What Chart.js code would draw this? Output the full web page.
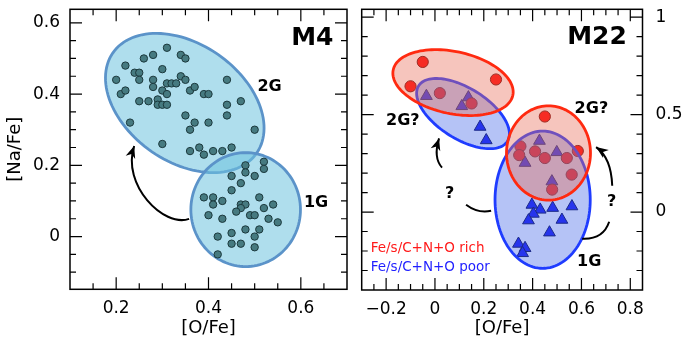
<!DOCTYPE html>
<html>
<head>
<meta charset="utf-8">
<script src="https://cdn.jsdelivr.net/npm/chart.js@4.4.1/dist/chart.umd.min.js"></script>
<style>
  html, body { margin: 0; padding: 0; background: #fff; }
  #wrap { position: relative; width: 692px; height: 343px; }
  canvas { position: absolute; top: 0; }
</style>
</head>
<body>
<div id="wrap">
  <canvas id="m4" width="352" height="343" style="left:0"></canvas>
  <canvas id="m22" width="340" height="343" style="left:352px"></canvas>
</div>
<script>
// M4 stars: [O/Fe] and [Na/Fe]
const m4OFe = [0.20, 0.22, 0.21, 0.22, 0.23, 0.24, 0.25, 0.25, 0.25, 0.26, 0.27, 0.28, 0.28, 0.28, 0.29, 0.29, 0.30, 0.30, 0.30, 0.30,
  0.31, 0.31, 0.31, 0.31, 0.32, 0.33, 0.34, 0.34, 0.35, 0.35, 0.35, 0.36, 0.36, 0.36, 0.37, 0.37, 0.38, 0.39, 0.39, 0.40,
  0.40, 0.41, 0.43, 0.44, 0.44, 0.44, 0.45, 0.47, 0.50,
  0.48, 0.52, 0.52, 0.45, 0.48, 0.50, 0.47, 0.45, 0.39, 0.41, 0.41, 0.43, 0.47, 0.48, 0.47, 0.46, 0.51, 0.52, 0.54, 0.40,
  0.43, 0.49, 0.50, 0.53, 0.55, 0.45, 0.48, 0.51, 0.42, 0.50, 0.45, 0.47, 0.50, 0.42];
const m4NaFe = [0.44, 0.48, 0.40, 0.41, 0.32, 0.46, 0.46, 0.44, 0.38, 0.50, 0.38, 0.51, 0.44, 0.42, 0.385, 0.37, 0.47, 0.41, 0.37, 0.26,
  0.53, 0.43, 0.40, 0.37, 0.43, 0.43, 0.45, 0.51, 0.50, 0.44, 0.34, 0.41, 0.30, 0.24, 0.42, 0.32, 0.25, 0.40, 0.23, 0.40,
  0.32, 0.24, 0.24, 0.44, 0.37, 0.34, 0.25, 0.38, 0.30,
  0.20, 0.21, 0.19, 0.17, 0.18, 0.17, 0.15, 0.13, 0.11, 0.11, 0.09, 0.10, 0.09, 0.09, 0.08, 0.07, 0.11, 0.08, 0.09, 0.06,
  0.05, 0.06, 0.06, 0.05, 0.04, 0.01, 0.02, 0.02, 0.00, 0.00, -0.02, -0.02, -0.03, -0.05];

// M22 stars, Fe/s/C+N+O rich (circles) and poor (triangles)
const richOFe = [-0.05, -0.10, 0.25, 0.02, 0.15, 0.45, 0.35, 0.345, 0.41, 0.45, 0.54, 0.585, 0.56, 0.48];
const richNaFe = [0.77, 0.645, 0.68, 0.61, 0.557, 0.49, 0.337, 0.292, 0.311, 0.277, 0.277, 0.313, 0.192, 0.115];
const poorOFe = [-0.035, 0.11, 0.137, 0.185, 0.21, 0.428, 0.499, 0.369, 0.479, 0.397, 0.431, 0.403, 0.383, 0.482,
  0.561, 0.52, 0.469, 0.342, 0.369, 0.359];
const poorNaFe = [0.595, 0.543, 0.588, 0.437, 0.368, 0.365, 0.307, 0.252, 0.157, 0.037, 0.012, -0.009, -0.043, 0.021,
  0.029, -0.040, -0.105, -0.163, -0.185, -0.211];

// tick labels
const m4XTicks = [0.2, 0.4, 0.6];
const m4YTicks = [0, 0.2, 0.4, 0.6];
const m22XTicks = [-0.2, 0, 0.2, 0.4, 0.6, 0.8];
const m22YTicks = [0, 0.5, 1];

const FONT = "'DejaVu Sans'";

// grouping ellipses: centre and the ends of two conjugate half-axes, in data units
const m4Ellipses = [
  { c: [0.3486, 0.375], a: [0.505, 0.2356], b: [0.4196, 0.512] },
  { c: [0.4805, 0.0757], a: [0.5992, 0.0757], b: [0.4805, 0.2356] }
];
const m22Ellipses = [
  { c: [0.115, 0.505], a: [0.297, 0.363], b: [0.170, 0.616], kind: 'poor' },
  { c: [0.441, 0.063], a: [0.636, 0.063], b: [0.441, 0.415], kind: 'poor' },
  { c: [0.074, 0.664], a: [0.319, 0.599], b: [0.100, 0.820], kind: 'rich' },
  { c: [0.465, 0.303], a: [0.637, 0.303], b: [0.465, 0.545], kind: 'rich' }
];

const deco = {
  m4: {
    ellipsesOnTop: false,
    ellipseStyle: () => ({ fill: 'rgba(110,195,222,0.55)', stroke: '#5b93c9' }),
    ellipses: m4Ellipses,
    arrows: [
      { p: [[0.358, 0.0497], [0.303, 0.0244], [0.2112, 0.145], [0.239, 0.2544]], head: true }
    ],
    texts: [
      { t: 'M4', x: 0.6707, y: 0.5377, font: 'bold 25px ' + FONT, align: 'right', color: '#000' },
      { t: '2G', x: 0.506, y: 0.409, font: 'bold 16px ' + FONT, align: 'left', color: '#000' },
      { t: '1G', x: 0.6066, y: 0.0833, font: 'bold 16px ' + FONT, align: 'left', color: '#000' }
    ],
    frame: { x0: 0.15, x1: 0.65, xs: 0.05, xMajor: m4XTicks, y0: -0.1, y1: 0.6, ys: 0.05, yMajor: m4YTicks }
  },
  m22: {
    ellipsesOnTop: true,
    ellipseStyle: e => e.kind === 'rich'
      ? { fill: 'rgba(232,110,90,0.4)', stroke: '#ff2a10' }
      : { fill: 'rgba(70,105,232,0.4)', stroke: '#1f3cff' },
    ellipses: m22Ellipses,
    arrows: [
      { p: [[0.1275, 0.0375], [0.177, -0.0087], [0.230, 0.0067]], head: false },
      { p: [[0.029, 0.2276], [-0.0078, 0.279], [0.0168, 0.3777]], head: true },
      { p: [[0.603, -0.137], [0.689, -0.142], [0.7135, -0.050]], head: false },
      { p: [[0.726, 0.135], [0.7217, 0.279], [0.660, 0.333]], head: true }
    ],
    texts: [
      { t: 'M22', x: 0.786, y: 0.860, font: 'bold 25px ' + FONT, align: 'right', color: '#000' },
      { t: '2G?', x: -0.2004, y: 0.448, font: 'bold 16px ' + FONT, align: 'left', color: '#000' },
      { t: '2G?', x: 0.572, y: 0.510, font: 'bold 16px ' + FONT, align: 'left', color: '#000' },
      { t: '?', x: 0.0414, y: 0.0735, font: 'bold 16px ' + FONT, align: 'left', color: '#000' },
      { t: '?', x: 0.705, y: 0.032, font: 'bold 16px ' + FONT, align: 'left', color: '#000' },
      { t: '1G', x: 0.582, y: -0.276, font: 'bold 16px ' + FONT, align: 'left', color: '#000' },
      { t: 'Fe/s/C+N+O rich', x: -0.263, y: -0.2025, font: '13.5px ' + FONT, align: 'left', color: '#ff1a1a' },
      { t: 'Fe/s/C+N+O poor', x: -0.263, y: -0.304, font: '13.5px ' + FONT, align: 'left', color: '#1f1fff' }
    ],
    frame: { x0: -0.25, x1: 0.8, xs: 0.05, xMajor: m22XTicks, y0: -0.3, y1: 1.0, ys: 0.1, yMajor: m22YTicks }
  }
};

function toPx(chart, p) {
  return [chart.scales.x.getPixelForValue(p[0]), chart.scales.y.getPixelForValue(p[1])];
}

function drawEllipses(chart, d) {
  const ctx = chart.ctx;
  d.ellipses.forEach(e => {
    const c = toPx(chart, e.c), a = toPx(chart, e.a), b = toPx(chart, e.b);
    const ax = a[0] - c[0], ay = a[1] - c[1], bx = b[0] - c[0], by = b[1] - c[1];
    const st = d.ellipseStyle(e);
    ctx.save();
    ctx.beginPath();
    for (let i = 0; i <= 120; i++) {
      const t = i / 120 * Math.PI * 2;
      const x = c[0] + Math.cos(t) * ax + Math.sin(t) * bx;
      const y = c[1] + Math.cos(t) * ay + Math.sin(t) * by;
      if (i === 0) ctx.moveTo(x, y); else ctx.lineTo(x, y);
    }
    ctx.closePath();
    ctx.fillStyle = st.fill;
    ctx.fill();
    ctx.lineWidth = 2.8;
    ctx.strokeStyle = st.stroke;
    ctx.stroke();
    ctx.restore();
  });
}

function drawArrows(chart, d) {
  const ctx = chart.ctx;
  ctx.save();
  ctx.strokeStyle = '#000';
  ctx.fillStyle = '#000';
  ctx.lineWidth = 2;
  d.arrows.forEach(ar => {
    const p = ar.p.map(q => toPx(chart, q));
    ctx.beginPath();
    ctx.moveTo(p[0][0], p[0][1]);
    if (p.length === 4) ctx.bezierCurveTo(p[1][0], p[1][1], p[2][0], p[2][1], p[3][0], p[3][1]);
    else ctx.quadraticCurveTo(p[1][0], p[1][1], p[2][0], p[2][1]);
    ctx.stroke();
    if (ar.head) {
      const tip = p[p.length - 1], from = p[p.length - 2];
      const ang = Math.atan2(tip[1] - from[1], tip[0] - from[0]);
      const L = 12, W = 5;
      ctx.beginPath();
      ctx.moveTo(tip[0], tip[1]);
      ctx.lineTo(tip[0] - L * Math.cos(ang) + W * Math.sin(ang), tip[1] - L * Math.sin(ang) - W * Math.cos(ang));
      ctx.lineTo(tip[0] - L * 0.7 * Math.cos(ang), tip[1] - L * 0.7 * Math.sin(ang));
      ctx.lineTo(tip[0] - L * Math.cos(ang) - W * Math.sin(ang), tip[1] - L * Math.sin(ang) + W * Math.cos(ang));
      ctx.closePath();
      ctx.fill();
    }
  });
  ctx.restore();
}

function drawTexts(chart, d) {
  const ctx = chart.ctx;
  ctx.save();
  ctx.textBaseline = 'alphabetic';
  d.texts.forEach(t => {
    const p = toPx(chart, [t.x, t.y]);
    ctx.font = t.font;
    ctx.fillStyle = t.color;
    ctx.textAlign = t.align;
    ctx.fillText(t.t, p[0], p[1]);
  });
  ctx.restore();
}

function drawFrame(chart, f) {
  const ctx = chart.ctx;
  const { left, right, top, bottom } = chart.chartArea;
  const sx = chart.scales.x, sy = chart.scales.y;
  const isMajor = (v, list) => list.some(m => Math.abs(m - v) < 1e-6);
  ctx.save();
  ctx.strokeStyle = '#000';
  ctx.lineWidth = 1.5;
  ctx.strokeRect(left, top, right - left, bottom - top);
  ctx.lineWidth = 1.2;
  ctx.beginPath();
  for (let v = f.x0; v <= f.x1 + 1e-6; v += f.xs) {
    const x = sx.getPixelForValue(v);
    const len = isMajor(v, f.xMajor) ? 12 : 6;
    ctx.moveTo(x, bottom); ctx.lineTo(x, bottom - len);
    ctx.moveTo(x, top); ctx.lineTo(x, top + len);
  }
  for (let v = f.y0; v <= f.y1 + 1e-6; v += f.ys) {
    const y = sy.getPixelForValue(v);
    const len = isMajor(v, f.yMajor) ? 12 : 6;
    ctx.moveTo(left, y); ctx.lineTo(left + len, y);
    ctx.moveTo(right, y); ctx.lineTo(right - len, y);
  }
  ctx.stroke();
  ctx.restore();
}

const decoPlugin = {
  id: 'deco',
  beforeDatasetsDraw(chart) {
    const d = deco[chart.canvas.id];
    if (!d.ellipsesOnTop) drawEllipses(chart, d);
  },
  afterDatasetsDraw(chart) {
    const d = deco[chart.canvas.id];
    if (d.ellipsesOnTop) drawEllipses(chart, d);
    drawArrows(chart, d);
    drawTexts(chart, d);
  },
  afterDraw(chart) {
    drawFrame(chart, deco[chart.canvas.id].frame);
  }
};

const fmt = v => v < 0 ? '\u2212' + String(-v) : String(v);
const pts = (xs, ys) => xs.map((x, i) => ({ x: x, y: ys[i] }));
// fixed axis sizes, and no extra room for half labels at the ends
const fixSize = (w, h) => s => {
  if (w !== null) s.width = w;
  if (h !== null) s.height = h;
  s.paddingTop = 0; s.paddingBottom = 0; s.paddingLeft = 0; s.paddingRight = 0;
};
const noGrid = { display: false, drawTicks: false };

const baseOptions = {
  responsive: false,
  animation: false,
  events: [],
  plugins: { legend: { display: false }, tooltip: { enabled: false } }
};

// M4 panel
new Chart(document.getElementById('m4'), {
  type: 'scatter',
  data: {
    datasets: [{
      data: pts(m4OFe, m4NaFe),
      pointRadius: 3.7,
      pointBackgroundColor: '#467a80',
      pointBorderColor: '#1b383c',
      pointBorderWidth: 1
    }]
  },
  options: Object.assign({}, baseOptions, {
    layout: { padding: { top: 9.3, right: 1.3, bottom: 0, left: 0 } },
    scales: {
      x: {
        type: 'linear', min: 0.1, max: 0.7, bounds: 'data',
        grid: noGrid, border: { display: false },
        afterBuildTicks: s => { s.ticks = m4XTicks.map(v => ({ value: v })); },
        afterFit: fixSize(null, 53.7),
        ticks: { padding: 9, color: '#000', font: { family: FONT, size: 17 }, callback: fmt, maxRotation: 0 },
        title: { display: true, text: '[O/Fe]', color: '#000', font: { family: FONT, size: 18 }, padding: { top: 0, bottom: 4 } }
      },
      y: {
        type: 'linear', position: 'left', min: -0.148, max: 0.638, bounds: 'data',
        grid: noGrid, border: { display: false },
        afterBuildTicks: s => { s.ticks = m4YTicks.map(v => ({ value: v })); },
        afterFit: fixSize(70, null),
        ticks: { padding: 10, color: '#000', font: { family: FONT, size: 17 }, callback: fmt },
        title: { display: true, text: '[Na/Fe]', color: '#000', font: { family: FONT, size: 18 }, padding: { top: 5, bottom: 0 } }
      }
    }
  }),
  plugins: [decoPlugin]
});

// M22 panel
new Chart(document.getElementById('m22'), {
  type: 'scatter',
  data: {
    datasets: [{
      label: 'Fe/s/C+N+O rich',
      data: pts(richOFe, richNaFe),
      pointStyle: 'circle',
      pointRadius: 5.6,
      pointBackgroundColor: '#ff0000',
      pointBorderColor: '#6a0000',
      pointBorderWidth: 1
    }, {
      label: 'Fe/s/C+N+O poor',
      data: pts(poorOFe, poorNaFe),
      pointStyle: 'triangle',
      pointRadius: 6.8,
      pointBackgroundColor: '#1212f0',
      pointBorderColor: '#00004a',
      pointBorderWidth: 1
    }]
  },
  options: Object.assign({}, baseOptions, {
    layout: { padding: { top: 9.3, right: 0, bottom: 0, left: 9.7 } },
    scales: {
      x: {
        type: 'linear', min: -0.3, max: 0.85, bounds: 'data',
        grid: noGrid, border: { display: false },
        afterBuildTicks: s => { s.ticks = m22XTicks.map(v => ({ value: v })); },
        afterFit: fixSize(null, 53),
        ticks: { padding: 9, color: '#000', font: { family: FONT, size: 17 }, callback: fmt, maxRotation: 0, autoSkip: false },
        title: { display: true, text: '[O/Fe]', color: '#000', font: { family: FONT, size: 18 }, padding: { top: 0, bottom: 4 } }
      },
      y: {
        type: 'linear', position: 'right', min: -0.4, max: 1.04, bounds: 'data',
        grid: noGrid, border: { display: false },
        afterBuildTicks: s => { s.ticks = m22YTicks.map(v => ({ value: v })); },
        afterFit: fixSize(49.5, null),
        ticks: { padding: 13, color: '#000', font: { family: FONT, size: 17 }, callback: fmt }
      }
    }
  }),
  plugins: [decoPlugin]
});
</script>
</body>
</html>
